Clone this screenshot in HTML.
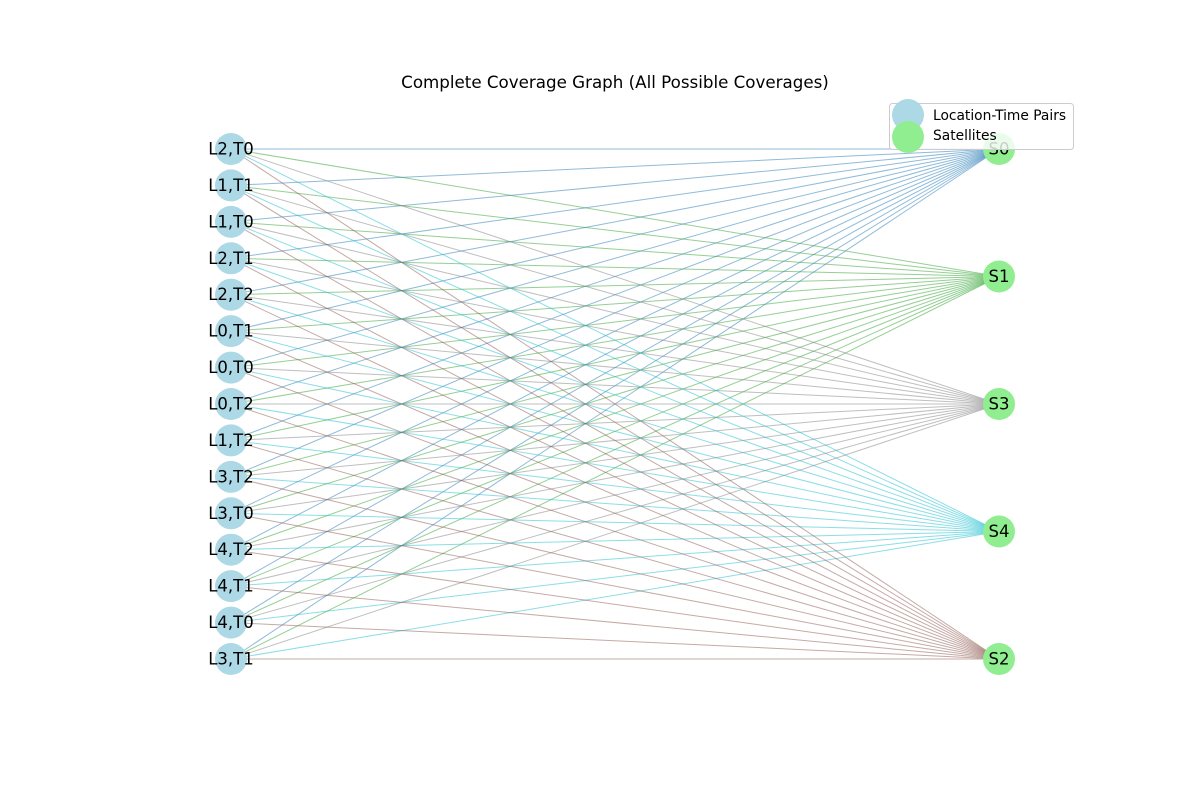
<!DOCTYPE html>
<html><head><meta charset="utf-8">
<style>
html,body{margin:0;padding:0;background:#fff;}
svg{display:block;font-family:"DejaVu Sans","Liberation Sans",sans-serif;}
</style></head>
<body>
<svg id="chart" width="1200" height="800" viewBox="0 0 1200 800">
<text x="615" y="88" text-anchor="middle" font-size="16.7" fill="#000">Complete Coverage Graph (All Possible Coverages)</text>
<g id="edges"></g>
<g id="nodes"></g>
<g>
<rect x="889.5" y="103.5" width="184" height="46" rx="3" fill="#fff" fill-opacity="0.8" stroke="#ccc"/>
<circle cx="908" cy="115" r="16" fill="#add8e6"/>
<text x="933" y="120" font-size="13.8">Location-Time Pairs</text>
<circle cx="908" cy="137" r="16" fill="#90ee90"/>
<text x="933" y="140" font-size="13.8">Satellites</text>
</g>
</svg>
<script>
const leftNodes = ["L2,T0","L1,T1","L1,T0","L2,T1","L2,T2","L0,T1","L0,T0","L0,T2","L1,T2","L3,T2","L3,T0","L4,T2","L4,T1","L4,T0","L3,T1"];
const satellites = ["S0","S1","S3","S4","S2"];
const satColors = ["#1f77b4","#2ca02c","#7f7f7f","#17becf","#8c564b"];
const NS="http://www.w3.org/2000/svg";
const leftX=231, rightX=999, topY=149, bottomY=659;
function leftY(i){return topY+(bottomY-topY)*i/(leftNodes.length-1);}
function rightY(j){return topY+(bottomY-topY)*j/(satellites.length-1);}
const eg=document.getElementById('edges'), ng=document.getElementById('nodes');
for(let j=0;j<satellites.length;j++){
  for(let i=0;i<leftNodes.length;i++){
    const l=document.createElementNS(NS,'line');
    l.setAttribute('x1',leftX);l.setAttribute('y1',leftY(i));
    l.setAttribute('x2',rightX);l.setAttribute('y2',rightY(j));
    l.setAttribute('stroke',satColors[j]);l.setAttribute('stroke-opacity','0.5');l.setAttribute('stroke-width','1');
    
    
    eg.appendChild(l);
  }
}
function addNode(x,y,fill,label,name){
  const c=document.createElementNS(NS,'circle');
  c.setAttribute('cx',x);c.setAttribute('cy',y);c.setAttribute('r',16);c.setAttribute('fill',fill);
  
  
  ng.appendChild(c);
  const t=document.createElementNS(NS,'text');
  t.setAttribute('x',x);t.setAttribute('y',y+5.5);t.setAttribute('text-anchor','middle');t.setAttribute('font-size','16.5');
  t.textContent=label;
  
  
  ng.appendChild(t);
}
leftNodes.forEach((n,i)=>addNode(leftX,leftY(i),'#add8e6',n,'node-'+n.replace(',','-').toLowerCase()));
satellites.forEach((n,j)=>addNode(rightX,rightY(j),'#90ee90',n,'satellite-'+n.toLowerCase()));
</script>
</body></html>
